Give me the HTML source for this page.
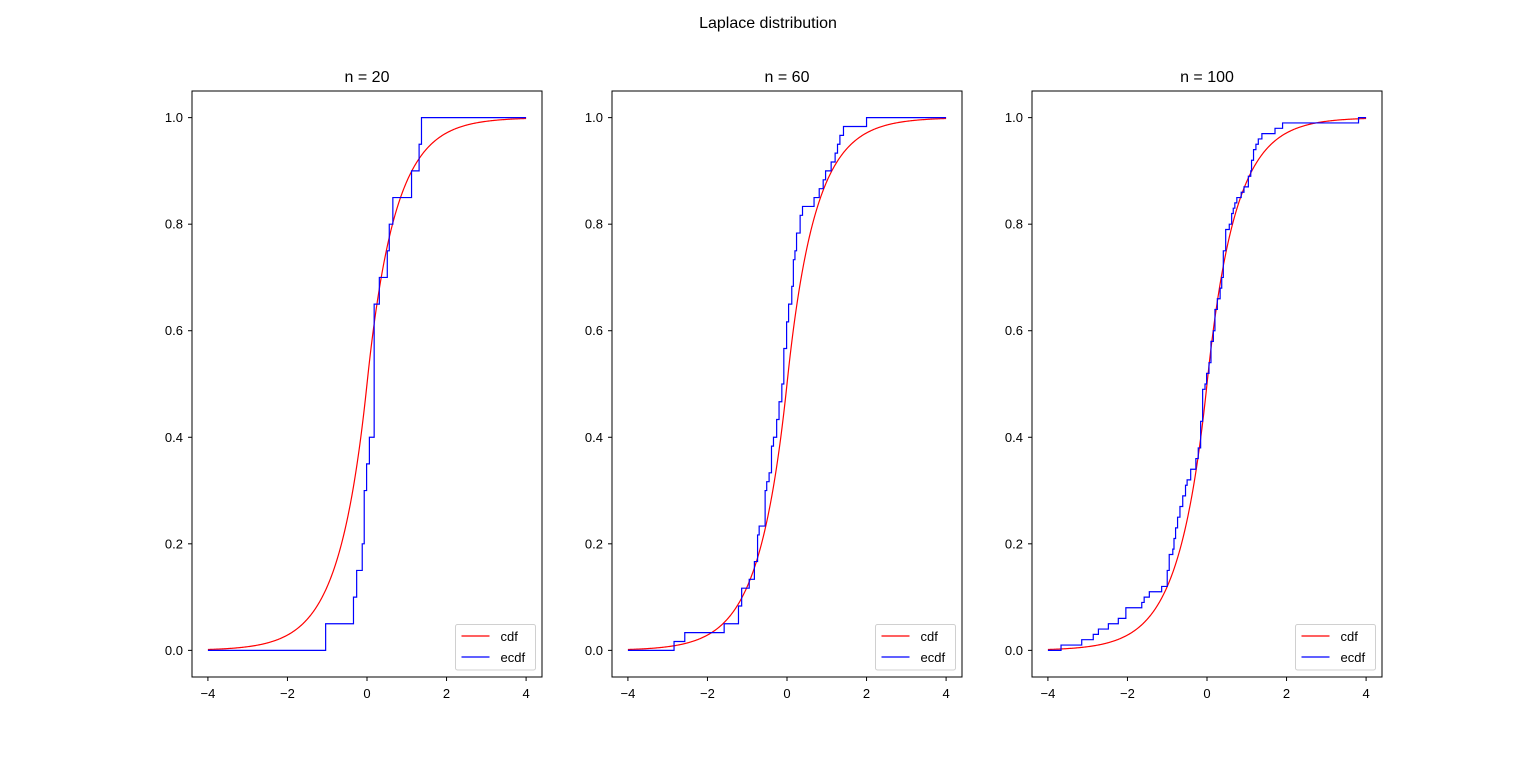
<!DOCTYPE html>
<html><head><meta charset="utf-8"><style>
body{margin:0;background:#fff;}
svg text{font-family:"Liberation Sans","DejaVu Sans",sans-serif;}
</style></head><body>
<svg id="fig" width="1536" height="761" viewBox="0 0 1536 761">
<rect width="1536" height="761" fill="#fff"/>
<text x="768" y="28" text-anchor="middle" font-size="16">Laplace distribution</text>
</svg>
<script>
const panelTitles = ["n = 20", "n = 60", "n = 100"];
const xTicks = [-4, -2, 0, 2, 4];
const yTicks = [0.0, 0.2, 0.4, 0.6, 0.8, 1.0];
const laplaceScale = 0.7;
const sampleX1 = [-1.04,-0.34,-0.26,-0.12,-0.07,-0.01,0.06,0.18,0.31,0.51,0.56,0.65,1.12,1.31,1.37];
const sampleN1 = [1,1,1,1,2,1,1,5,1,1,1,1,1,1,1];
const sampleX2 = [-2.84,-2.57,-1.58,-1.22,-1.14,-0.95,-0.82,-0.74,-0.70,-0.55,-0.51,-0.45,-0.39,-0.34,-0.26,-0.20,-0.13,-0.08,-0.01,0.04,0.12,0.16,0.20,0.24,0.33,0.39,0.68,0.81,0.91,0.97,1.11,1.21,1.27,1.33,1.42,2.00];
const sampleN2 = [1,1,1,2,2,1,2,3,1,4,1,1,3,1,2,2,2,4,3,2,2,3,1,2,2,1,1,1,1,1,1,1,1,1,1,1];
const sampleX3 = [-3.67,-3.15,-2.86,-2.73,-2.48,-2.23,-2.04,-1.64,-1.58,-1.45,-1.14,-1.00,-0.95,-0.86,-0.83,-0.79,-0.74,-0.68,-0.61,-0.54,-0.50,-0.41,-0.28,-0.22,-0.16,-0.11,-0.05,-0.01,0.05,0.10,0.16,0.20,0.26,0.33,0.37,0.41,0.47,0.56,0.62,0.66,0.70,0.75,0.86,0.93,1.04,1.10,1.12,1.17,1.23,1.29,1.38,1.71,1.90,3.81];
const sampleN3 = [1,1,1,1,1,1,2,1,1,1,1,3,3,1,2,2,2,2,2,2,1,2,2,2,5,6,1,2,2,4,2,4,2,2,2,5,4,1,2,1,1,1,1,1,2,1,2,2,1,1,1,1,1,1];
const samplesX = [sampleX1, sampleX2, sampleX3];
const samplesN = [sampleN1, sampleN2, sampleN3];

const NS = "http://www.w3.org/2000/svg";
const svg = document.getElementById('fig');
function mk(tag, attrs, parent){const e=document.createElementNS(NS,tag);for(const k in attrs)e.setAttribute(k,attrs[k]);(parent||svg).appendChild(e);return e;}
const axLefts=[192,612,1032], axW=350, axTop=91, axBot=677;
const xMin=-4.4, xMax=4.4, yMin=-0.05, yMax=1.05;
function cdf(x){return x<0?0.5*Math.exp(x/laplaceScale):1-0.5*Math.exp(-x/laplaceScale);}

for(let p=0;p<3;p++){
  const L=axLefts[p];
  const sx=v=>L+(v-xMin)/(xMax-xMin)*axW;
  const sy=v=>axBot-(v-yMin)/(yMax-yMin)*(axBot-axTop);
  const g=mk('g',{});
  
  
  // cdf
  let d='';
  for(let i=0;i<=400;i++){const x=-4+8*i/400;d+=(i?'L':'M')+sx(x).toFixed(2)+' '+sy(cdf(x)).toFixed(2);}
  const c=mk('path',{d:d,fill:'none',stroke:'#ff0000','stroke-width':1.2},g);
  
  
  // ecdf
  const xs=samplesX[p], ns=samplesN[p];
  const total=ns.reduce((a,b)=>a+b,0);
  let cum=0; let e='M'+sx(-4)+' '+sy(0);
  for(let i=0;i<xs.length;i++){
    e+='L'+sx(xs[i]).toFixed(2)+' '+sy(cum/total).toFixed(2);
    cum+=ns[i];
    e+='L'+sx(xs[i]).toFixed(2)+' '+sy(cum/total).toFixed(2);
  }
  e+='L'+sx(4)+' '+sy(1);
  const el=mk('path',{d:e,fill:'none',stroke:'#0000ff','stroke-width':1.2,'stroke-linejoin':'miter'},g);
  
  
  // frame
  const fr=mk('rect',{x:L,y:axTop,width:axW,height:axBot-axTop,fill:'none',stroke:'#000','stroke-width':1},g);
  
  
  // ticks
  xTicks.forEach(t=>{const X=sx(t);mk('line',{x1:X,x2:X,y1:axBot,y2:axBot+4,stroke:'#000'},g);
    const tx=mk('text',{x:X,y:axBot+21,'text-anchor':'middle','font-size':13},g);tx.textContent=(t<0?'\u2212'+(-t):t);
    
    });
  yTicks.forEach(t=>{const Y=sy(t);mk('line',{x1:L-4,x2:L,y1:Y,y2:Y,stroke:'#000'},g);
    const ty=mk('text',{x:L-9,y:Y+4.5,'text-anchor':'end','font-size':13},g);ty.textContent=t.toFixed(1);
    
    });
  const tt=mk('text',{x:L+axW/2,y:axTop-9,'text-anchor':'middle','font-size':16},g);tt.textContent=panelTitles[p];
  
  
  // legend
  const lg=mk('g',{},g);
  
  
  const lx=L+263.5;
  mk('rect',{x:lx,y:624.5,width:80,height:45.5,rx:2,fill:'#fff','fill-opacity':0.8,stroke:'#d0d0d0'},lg);
  mk('line',{x1:lx+6,x2:lx+34,y1:636,y2:636,stroke:'#ff0000','stroke-width':1.2},lg);
  mk('line',{x1:lx+6,x2:lx+34,y1:657,y2:657,stroke:'#0000ff','stroke-width':1.2},lg);
  const t1=mk('text',{x:lx+45,y:641,'font-size':13},lg);t1.textContent='cdf';
  
  
  const t2=mk('text',{x:lx+45,y:662,'font-size':13},lg);t2.textContent='ecdf';
  
  
}
</script>
</body></html>
